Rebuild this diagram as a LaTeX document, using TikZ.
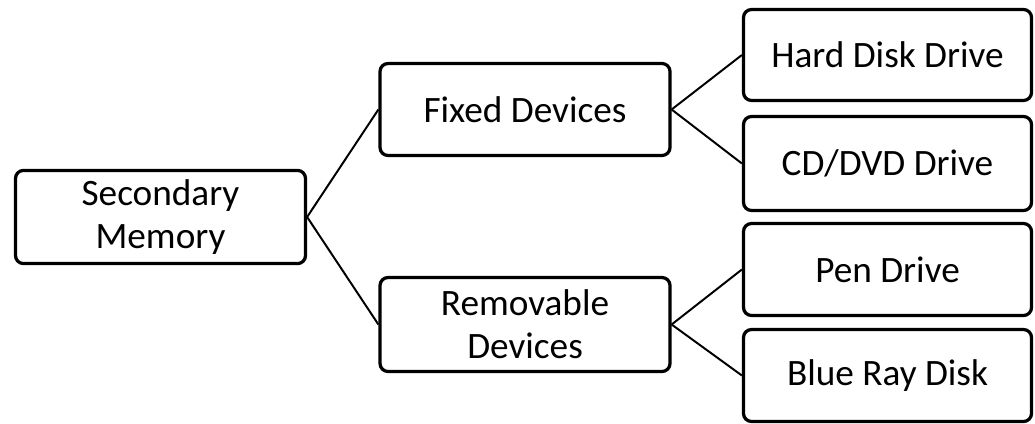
\documentclass[tikz,border=0pt]{standalone}
\usepackage{fontspec}
\setmainfont{Carlito}
\usepackage{tikz, xcolor}
\usetikzlibrary{
calc, positioning,
shapes}

\begin{document}
\begin{tikzpicture}[
box/.style={rectangle, rounded corners=0.2cm, text centered, draw=black,
  line width=2.3pt, align=center, minimum width=7.25cm,
  font=\fontsize{26.5}{30.5}\selectfont},
link/.style={line width=1.4pt, color=black}]

\useasboundingbox (0, 0) rectangle (25.875, -10.6);

\node[box, minimum height=2.33cm]
(secondary) at (4.0125, -5.425)
{Secondary\\Memory};

\node[box, minimum height=2.3cm]
(fixed) at (13.125, -2.7375)
{Fixed Devices};

\node[box, minimum height=2.35cm]
(removable) at (13.125, -8.1125)
{Removable\\Devices};

\node[box, minimum width=7.2cm, minimum height=2.275cm]
(harddisk) at (22.1875, -1.375)
{Hard Disk Drive};

\node[box, minimum width=7.2cm, minimum height=2.35cm]
(cddvd) at (22.1875, -4.0875)
{CD/DVD Drive};

\node[box, minimum width=7.2cm, minimum height=2.3cm]
(pendrive) at (22.1875, -6.7375)
{Pen Drive};

\node[box, minimum width=7.2cm, minimum height=2.3cm]
(blueray) at (22.1875, -9.3875)
{Blue Ray Disk};

\draw[link] (secondary.east) -- (fixed.west);
\draw[link] (secondary.east) -- (removable.west);
\draw[link] (fixed.east) -- (harddisk.west);
\draw[link] (fixed.east) -- (cddvd.west);
\draw[link] (removable.east) -- (pendrive.west);
\draw[link] (removable.east) -- (blueray.west);

\end{tikzpicture}
\end{document}
